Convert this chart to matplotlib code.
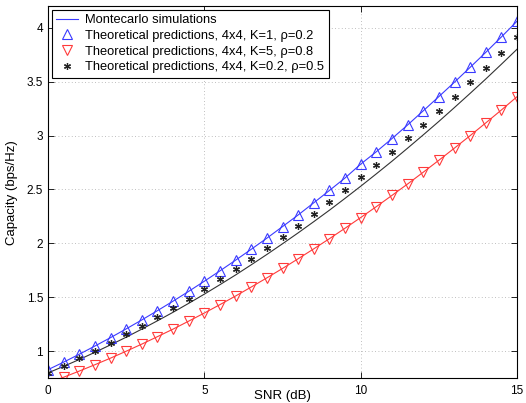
import numpy as np
import matplotlib
matplotlib.use('Agg')
import matplotlib.pyplot as plt

plt.rcParams['font.family'] = ['Liberation Sans', 'DejaVu Sans']

# SNR grid (dB)
snr = [0, 0.5, 1, 1.5, 2, 2.5, 3, 3.5, 4, 4.5, 5, 5.5, 6, 6.5, 7, 7.5,
       8, 8.5, 9, 9.5, 10, 10.5, 11, 11.5, 12, 12.5, 13, 13.5, 14, 14.5, 15]

# K=1, rho=0.2
mc_k1 = [0.830, 0.900, 0.973, 1.049, 1.127, 1.208, 1.291, 1.377, 1.465, 1.556,
         1.650, 1.746, 1.845, 1.946, 2.049, 2.156, 2.264, 2.377, 2.491, 2.607,
         2.735, 2.850, 2.972, 3.098, 3.229, 3.361, 3.495, 3.632, 3.771, 3.914, 4.060]
th_k1 = mc_k1

# K=5, rho=0.8
mc_k5 = [0.706, 0.760, 0.817, 0.876, 0.937, 1.001, 1.067, 1.136, 1.206, 1.280,
         1.355, 1.433, 1.513, 1.596, 1.681, 1.768, 1.858, 1.950, 2.044, 2.141,
         2.240, 2.341, 2.445, 2.551, 2.660, 2.771, 2.884, 2.999, 3.117, 3.237, 3.360]
th_k5 = mc_k5

# K=0.2, rho=0.5
mc_k02 = [0.800, 0.861, 0.924, 0.991, 1.060, 1.131, 1.206, 1.283, 1.362, 1.445,
          1.530, 1.618, 1.708, 1.802, 1.898, 1.997, 2.098, 2.202, 2.308, 2.418,
          2.530, 2.645, 2.762, 2.883, 3.006, 3.131, 3.260, 3.391, 3.524, 3.661, 3.800]
th_k02 = [0.800, 0.866, 0.934, 1.006, 1.079, 1.156, 1.234, 1.316, 1.400, 1.487,
          1.576, 1.668, 1.763, 1.859, 1.959, 2.061, 2.166, 2.273, 2.384, 2.496,
          2.620, 2.730, 2.850, 2.974, 3.099, 3.228, 3.358, 3.493, 3.628, 3.767, 3.910]

blue = '#3a3aff'
red = '#ff3a3a'

fig = plt.figure(figsize=(5.26, 4.03), dpi=100)
ax = fig.add_axes([0.0913, 0.0613, 0.8917, 0.9237])

# Monte Carlo curves
ax.plot(snr, mc_k1, color=blue, lw=0.8, label='Montecarlo simulations')
ax.plot(snr, mc_k5, color=red, lw=0.8)
ax.plot(snr, mc_k02, color='#333333', lw=0.8)

# Theoretical predictions
ax.plot(snr, th_k1, ls='none', marker='^', ms=7, mfc='none', mec=blue, mew=0.8,
        label='Theoretical predictions, 4x4, K=1, \u03c1=0.2')
ax.plot(snr, th_k5, ls='none', marker='v', ms=7, mfc='none', mec=red, mew=0.8,
        label='Theoretical predictions, 4x4, K=5, \u03c1=0.8')
ax.plot(snr, th_k02, ls='none', marker=(6, 2, 0), ms=5, color='#222222', mew=0.9,
        label='Theoretical predictions, 4x4, K=0.2, \u03c1=0.5')

ax.set_xlim(0, 15)
ax.set_ylim(0.75, 4.2)
ax.set_xticks([0, 5, 10, 15])
ax.set_yticks([1, 1.5, 2, 2.5, 3, 3.5, 4])
ax.set_yticklabels(['1', '1.5', '2', '2.5', '3', '3.5', '4'])
ax.tick_params(direction='in', top=True, right=True, labelsize=8.5, length=4, width=0.6)
ax.tick_params(axis='x', pad=5)
ax.grid(True, ls=(0, (1, 3)), color='#aaaaaa', lw=0.6)
for s in ax.spines.values():
    s.set_linewidth(0.8)

ax.set_xlabel('SNR (dB)', fontsize=9.5)
ax.xaxis.set_label_coords(0.5, -0.031)
ax.set_ylabel('Capacity (bps/Hz)', fontsize=9.5, labelpad=6)

leg = ax.legend(loc='upper left', fontsize=9.3, fancybox=False, framealpha=1,
                edgecolor='black', labelspacing=0.27, borderpad=0.35,
                handlelength=1.7, handletextpad=0.55, borderaxespad=0.3)
leg.get_frame().set_linewidth(0.8)

plt.savefig('out.png', dpi=100)
